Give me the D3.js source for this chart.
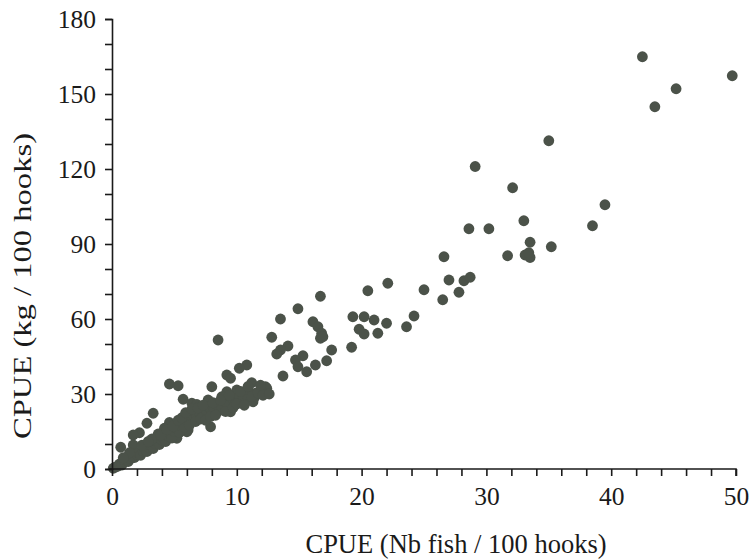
<html><head>
<meta charset="utf-8">
<title>CPUE</title>
<script src="https://d3js.org/d3.v7.min.js"></script>
<style>
  body { margin: 0; background: #fff; }
  svg text { font-family: "Liberation Serif", "DejaVu Serif", serif; fill: #1a1a1a; }
</style>
</head>
<body>
<div id="chart"></div>
<script>

// CPUE in number of fish / 100 hooks
var fishCpue = [
  42.5, 49.7, 45.2, 43.5, 35.0, 29.1, 32.1, 39.5, 33.0, 38.5,
  30.2, 28.6, 35.2, 33.5, 31.7, 33.1, 33.5, 33.4, 26.6, 27.0,
  28.2, 28.7, 27.8, 26.5, 25.0, 22.1, 20.5, 16.7, 14.9, 13.5,
  24.2, 23.6, 19.3, 20.2, 21.0, 22.0, 19.8, 20.2, 21.3, 16.1,
  16.5, 16.8, 16.7, 16.9, 12.8, 19.2, 17.6, 17.2, 16.3, 15.3,
  14.7, 14.9, 15.6, 14.1, 13.5, 13.2, 13.7, 12.3, 8.5, 4.6,
  5.3, 10.8, 10.2, 9.2, 9.5, 8.0, 3.3, 2.8, 2.2, 1.7,
  0.7, 1.7, 5.7, 6.4, 7.7, 7.9, 9.5, 4.6, 11.2, 11.5,
  10.9, 12.4, 10.8, 11.3, 9.2, 8.8, 10.0, 9.5, 7.7, 6.0,
  5.2, 6.1, 4.2, 3.7, 6.8,
  0.1, 0.3, 0.5, 0.6, 0.8, 1.0, 1.1, 1.3, 1.5, 1.6,
  1.8, 2.0, 2.1, 2.3, 2.5, 2.6, 2.8, 3.0, 3.1, 3.3,
  3.5, 3.6, 3.8, 4.0, 4.1, 4.3, 4.5, 4.7, 4.8, 5.0,
  5.2, 5.4, 5.5, 5.7, 5.8, 6.0, 6.1, 6.3, 6.5, 6.6,
  6.8, 7.0, 7.2, 7.4, 7.6, 7.8, 8.0, 8.2, 8.4, 8.6,
  8.8, 9.0, 9.3, 9.6, 9.9, 10.2, 10.5, 10.9, 11.4, 12.0,
  3.2, 3.9, 4.4, 4.9, 5.3, 5.6, 5.9, 6.2, 6.4, 6.7,
  6.9, 7.1, 7.3, 7.5, 7.9, 8.1, 8.3, 8.7, 9.1, 9.4,
  9.7, 10.0, 10.3, 10.6, 10.9, 11.2, 11.7, 12.1, 11.9, 12.6,
  2.4, 2.9, 1.4, 0.9
];

// CPUE in kg / 100 hooks
var kgCpue = [
  164.9, 157.3, 152.1, 144.9, 131.3, 121.0, 112.5, 105.7, 99.3, 97.3,
  96.1, 96.1, 88.9, 90.7, 85.3, 85.6, 84.6, 86.5, 84.9, 75.6,
  75.3, 76.7, 70.7, 67.7, 71.7, 74.3, 71.3, 69.1, 64.1, 60.0,
  61.2, 56.9, 60.9, 60.9, 59.6, 58.3, 55.9, 54.0, 54.3, 58.9,
  56.9, 54.3, 52.3, 52.9, 52.7, 48.7, 47.6, 43.3, 41.6, 45.3,
  43.6, 40.9, 38.9, 49.2, 47.6, 46.0, 37.2, 32.9, 51.6, 34.0,
  33.3, 41.6, 40.3, 37.6, 36.3, 32.9, 22.3, 18.3, 14.5, 13.6,
  8.7, 9.6, 27.9, 26.3, 26.9, 16.9, 22.9, 18.6, 34.5, 30.3,
  31.6, 32.3, 30.3, 26.9, 30.9, 28.9, 31.6, 27.6, 27.6, 14.9,
  12.3, 15.6, 16.3, 14.0, 25.8,
  0.3, 0.8, 1.2, 2.0, 1.6, 2.8, 3.5, 3.0, 4.2, 5.0,
  4.6, 5.8, 6.5, 5.5, 7.2, 8.0, 7.0, 8.6, 9.5, 8.2,
  10.1, 11.0, 9.8, 11.6, 12.5, 11.0, 13.2, 14.0, 12.4, 15.0,
  16.2, 14.6, 17.4, 18.6, 16.8, 19.6, 21.0, 19.0, 21.8, 23.0,
  20.8, 22.4, 23.6, 21.2, 23.0, 24.6, 22.0, 24.0, 25.8, 23.4,
  25.0, 27.0, 25.4, 28.4, 26.2, 28.8, 27.4, 29.0, 28.6, 31.0,
  12.0, 13.5, 15.8, 17.2, 19.5, 20.5, 22.5, 17.5, 24.0, 19.0,
  24.5, 20.0, 25.5, 19.5, 21.0, 26.5, 21.5, 27.5, 23.0, 29.5,
  24.5, 26.0, 31.0, 25.5, 33.0, 29.0, 30.5, 29.5, 33.5, 30.0,
  9.5, 11.0, 6.5, 4.5
];

var xTickLabels = [0, 10, 20, 30, 40, 50];
var yTickLabels = [0, 30, 60, 90, 120, 150, 180];

var width = 752, height = 560;
var svg = d3.select("#chart").append("svg")
    .attr("width", width)
    .attr("height", height);

// scales
var xScale = d3.scaleLinear().domain([0, 50]).range([112, 736]);
var yScale = d3.scaleLinear().domain([0, 180]).range([469, 19]);

// points
svg.append("g")
  .selectAll("circle")
  .data(fishCpue)
  .enter().append("circle")
    .attr("cx", function(d) { return xScale(d); })
    .attr("cy", function(d, i) { return yScale(kgCpue[i]); })
    .attr("r", 5.4)
    .attr("fill", "#4b5249");

// x axis
var xAxis = d3.axisBottom(xScale)
    .tickValues(d3.range(0, 51, 2))
    .tickSize(7)
    .tickPadding(11)
    .tickFormat(function(d) { return xTickLabels.indexOf(d) >= 0 ? d : ""; });

var gx = svg.append("g")
    .attr("transform", "translate(0," + yScale(0) + ")")
    .call(xAxis);
gx.select(".domain").attr("d", "M" + (xScale(0) - 3) + ",0H" + xScale(50) + "V7");

// y axis
var yAxis = d3.axisLeft(yScale)
    .tickValues(d3.range(0, 181, 10))
    .tickSize(7)
    .tickPadding(9)
    .tickFormat(function(d) { return yTickLabels.indexOf(d) >= 0 ? d : ""; });

var gy = svg.append("g")
    .attr("transform", "translate(" + xScale(0) + ",0)")
    .call(yAxis);

svg.selectAll(".domain, .tick line")
    .attr("stroke", "#1a1a1a")
    .attr("stroke-width", 1.6);
svg.selectAll(".tick text")
    .style("font-size", "25.5px")
    .style("font-family", "Liberation Serif");

// axis titles
svg.append("text")
    .attr("x", 456)
    .attr("y", 553)
    .attr("text-anchor", "middle")
    .style("font-size", "26.5px")
    .text("CPUE (Nb fish / 100 hooks)");

svg.append("text")
    .attr("transform", "translate(31,286) rotate(-90)")
    .attr("text-anchor", "middle")
    .attr("textLength", 306)
    .attr("lengthAdjust", "spacingAndGlyphs")
    .style("font-size", "25.5px")
    .text("CPUE (kg / 100 hooks)");

</script>
</body></html>
